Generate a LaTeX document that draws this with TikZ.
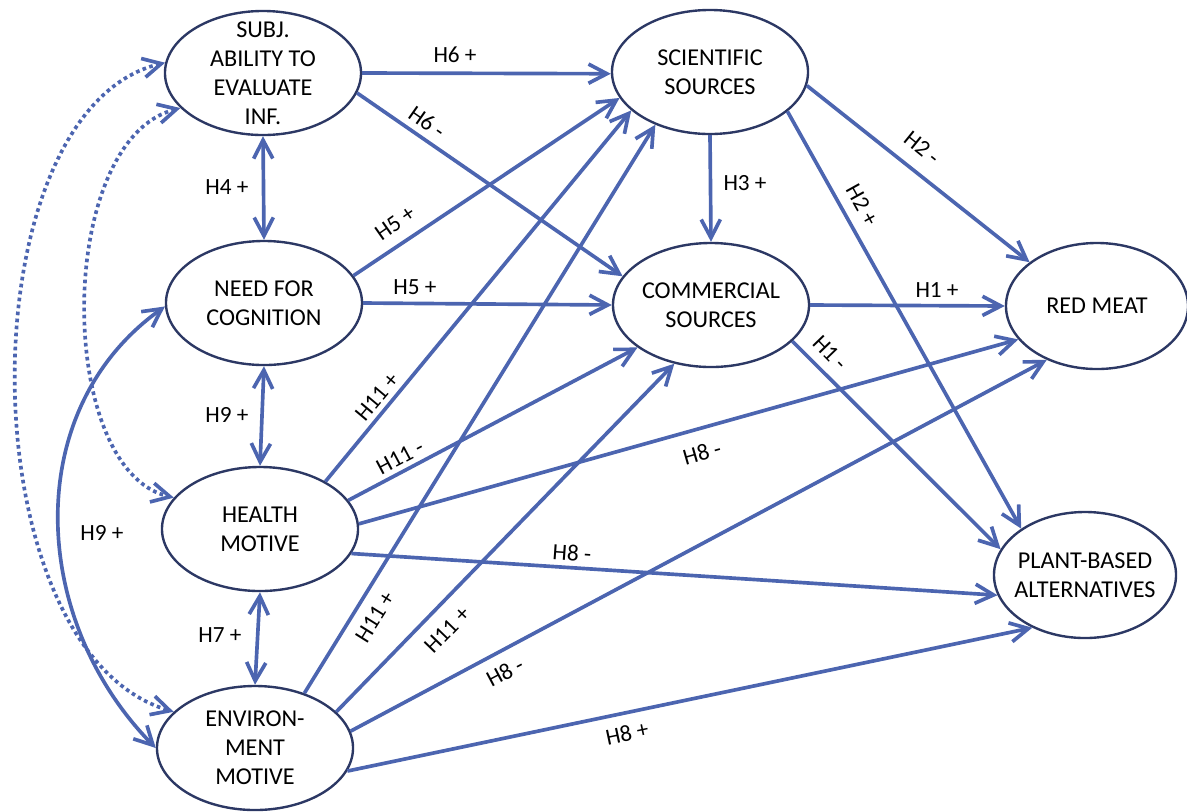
\documentclass[tikz,border=0pt]{standalone}
\usepackage{fontspec}
\setmainfont{Carlito}
\usetikzlibrary{shapes.geometric,arrows.meta}
\definecolor{linkblue}{RGB}{76,101,176}
\definecolor{ringblue}{RGB}{44,56,100}
\begin{document}
\begin{tikzpicture}[x=0.025cm,y=-0.025cm,
  >={Straight Barb[length=4.6mm,width=4.8mm]},
  construct/.style={ellipse,draw=ringblue,line width=1.7pt,inner xsep=-0.2cm,inner ysep=-0.25cm,
    align=center,font=\fontsize{17.2}{20.5}\selectfont,minimum width=4.9cm,minimum height=3.1cm},
  outcome/.style={construct,minimum width=4.55cm,minimum height=3.15cm},
  link/.style={draw=linkblue,line width=2.6pt},
  dotlink/.style={link,dash pattern=on 2.6pt off 2.4pt},
  lbl/.style={font=\fontsize{16.5}{18}\selectfont,inner sep=1pt}]
\useasboundingbox (0,0) rectangle (1187,811);
\node[construct] (subj) at (263,73) {SUBJ.\\ABILITY TO\\EVALUATE\\INF.};
\node[construct] (need) at (264,303) {NEED FOR\\COGNITION};
\node[construct] (health) at (260,529) {HEALTH\\MOTIVE};
\node[construct] (env) at (255,748) {ENVIRON-\\MENT\\MOTIVE};
\node[construct] (sci) at (710,72) {SCIENTIFIC\\SOURCES};
\node[construct] (com) at (711,305) {COMMERCIAL\\SOURCES};
\node[outcome] (red) at (1097,306) {RED MEAT};
\node[outcome] (plant) at (1085,575) {PLANT-BASED\\ALTERNATIVES};

\draw[link,->] (subj.0) -- (sci.181);
\draw[link,->] (subj.348) -- (com.162);
\draw[link,<->] (subj.270) -- (need.90);
\draw[link,->] (need.17) -- (sci.196);
\draw[link,->] (need.0) -- (com.180);
\draw[link,<->] (need.270) -- (health.90);
\draw[link,->] (health.36) -- (sci.206);
\draw[link,->] (health.18) -- (com.210);
\draw[link,->] (health.3) -- (red.203);
\draw[link,->] (health.345) -- (plant.193);
\draw[link,<->] (health.270) -- (env.90);
\draw[link,->] (env.48) -- (sci.224);
\draw[link,->] (env.24) -- (com.238);
\draw[link,->] (env.10) -- (red.227);
\draw[link,->] (env.346) -- (plant.225);
\draw[link,->] (sci.270) -- (com.90);
\draw[link,->] (sci.352) -- (red.147);
\draw[link,->] (sci.333) -- (plant.144);
\draw[link,->] (com.0) -- (red.180);
\draw[link,->] (com.336) -- (plant.163);

\draw[link,<->] (need.182) .. controls (20,410) and (30,620) .. (env.180);
\draw[dotlink,<->] (subj.174) .. controls (-35,110) and (-35,650) .. (env.156);
\draw[dotlink,<->] (subj.203) .. controls (55,140) and (55,470) .. (health.160);

\node[lbl] (h6a) at (455,55) {H6 +};
\node[lbl,rotate=-35] (h6b) at (427,122) {H6 -};
\node[lbl] (h4) at (227,187) {H4 +};
\node[lbl,rotate=35] (h5a) at (395,223) {H5 +};
\node[lbl] (h5b) at (415,287) {H5 +};
\node[lbl] (h9a) at (227,415) {H9 +};
\node[lbl] (h9b) at (102,533) {H9 +};
\node[lbl] (h7) at (220,635) {H7 +};
\node[lbl,rotate=50] (h11a) at (377,397) {H11 +};
\node[lbl,rotate=28] (h11b) at (400,457) {H11 -};
\node[lbl,rotate=16] (h8a) at (702,453) {H8 -};
\node[lbl,rotate=-4] (h8b) at (572,553) {H8 -};
\node[lbl,rotate=58] (h11c) at (375,617) {H11 +};
\node[lbl,rotate=46] (h11d) at (447,630) {H11 +};
\node[lbl,rotate=28] (h8c) at (505,672) {H8 -};
\node[lbl,rotate=12] (h8d) at (627,733) {H8 +};
\node[lbl] (h3) at (745,183) {H3 +};
\node[lbl,rotate=-39] (h2a) at (922,148) {H2 -};
\node[lbl,rotate=-61] (h2b) at (862,205) {H2 +};
\node[lbl] (h1a) at (937,290) {H1 +};
\node[lbl,rotate=-46] (h1b) at (830,353) {H1 -};
\end{tikzpicture}
\end{document}
